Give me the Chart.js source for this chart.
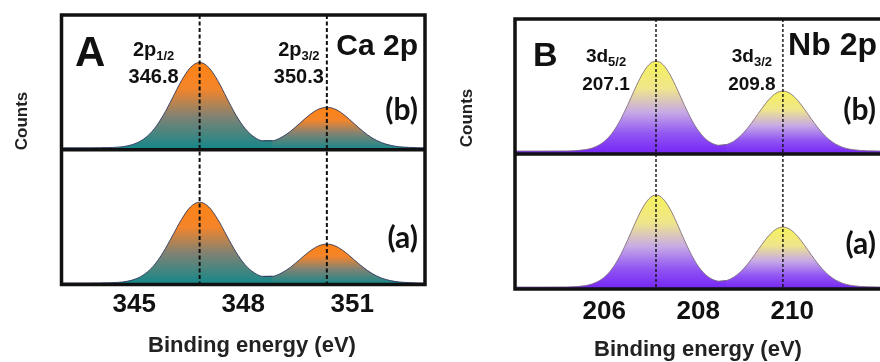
<!DOCTYPE html>
<html>
<head>
<meta charset="utf-8">
<script src="https://cdn.jsdelivr.net/npm/chart.js@4.4.1/dist/chart.umd.min.js"></script>
<style>
  html, body { margin: 0; padding: 0; background: #fff; overflow: hidden; }
  #figure { position: relative; width: 880px; height: 362px; overflow: hidden; background: #fff; }
  #figure canvas { position: absolute; top: 0; }
  #caChart { left: 0; }
  #nbChart { left: 440px; }
</style>
</head>
<body>
<div id="figure">
  <canvas id="caChart" width="440" height="362"></canvas>
  <canvas id="nbChart" width="470" height="362"></canvas>
</div>
<script>
// ---- Ca 2p spectra (binding energy in eV, counts in a.u.) ----
const energyCa = [343.0, 343.05, 343.3, 343.55, 343.8, 344.05, 344.3, 344.55, 344.8, 345.05, 345.3,
  345.55, 345.8, 346.05, 346.3, 346.55, 346.8, 347.05, 347.3, 347.55, 347.8, 348.05, 348.3, 348.55,
  348.8, 349.05, 349.3, 349.55, 349.8, 350.05, 350.3, 350.55, 350.8, 351.05, 351.3, 351.55, 351.8,
  352.05, 352.3, 352.55, 352.8, 353.0];
const countsCaB = [2.0, 2.0, 2.0, 2.0, 2.0, 2.1, 2.2, 2.6, 3.8, 6.5, 11.8, 20.9, 34.6, 51.7, 69.2, 82.5,
  87.5, 82.5, 69.2, 51.7, 34.7, 21.3, 12.8, 8.9, 9.0, 12.4, 18.5, 26.3, 34.2, 40.3, 42.5, 40.3, 34.2,
  26.2, 18.3, 11.7, 7.2, 4.5, 3.0, 2.4, 2.1, 2.0];
const countsCaA = [1.5, 1.5, 1.5, 1.5, 1.5, 1.6, 1.7, 2.1, 3.2, 5.7, 10.8, 19.4, 32.4, 48.6, 65.1, 77.8,
  82.5, 77.8, 65.2, 48.6, 32.5, 19.8, 11.8, 8.1, 8.2, 11.5, 17.3, 24.9, 32.5, 38.3, 40.5, 38.3, 32.5,
  24.8, 17.2, 10.9, 6.5, 3.9, 2.5, 1.9, 1.6, 1.5];
const peaksCa = [346.8, 350.3];
const subsCa = ['1/2', '3/2'];
const ticksCa = [345, 348, 351];

// ---- Nb spectra ----
const energyNb = [204.1, 204.7, 205.2, 205.6, 205.75, 205.9, 206.05, 206.2, 206.35, 206.5, 206.65,
  206.8, 206.95, 207.1, 207.25, 207.4, 207.55, 207.7, 207.85, 208.0, 208.15, 208.3, 208.45, 208.6,
  208.75, 208.9, 209.05, 209.2, 209.35, 209.5, 209.65, 209.8, 209.95, 210.1, 210.25, 210.4, 210.55,
  210.7, 210.85, 211.0, 211.15, 211.3, 211.6, 212.1];
const countsNbB = [3.0, 3.0, 3.1, 4.4, 6.1, 9.3, 14.7, 23.1, 34.8, 49.3, 64.9, 79.2, 89.3, 93.0, 89.3,
  79.2, 64.9, 49.3, 34.9, 23.4, 15.3, 10.6, 8.7, 9.5, 12.6, 18.2, 25.9, 35.4, 45.4, 54.4, 60.7, 63.0,
  60.7, 54.4, 45.4, 35.4, 25.9, 18.0, 12.1, 8.1, 5.6, 4.3, 3.2, 3.0];
const countsNbA = [2.0, 2.0, 2.1, 3.4, 5.2, 8.4, 14.0, 22.6, 34.5, 49.3, 65.3, 79.9, 90.2, 94.0, 90.2,
  79.9, 65.3, 49.3, 34.6, 22.8, 14.5, 9.7, 7.8, 8.5, 11.7, 17.2, 24.9, 34.4, 44.4, 53.4, 59.7, 62.0,
  59.7, 53.4, 44.4, 34.4, 24.9, 17.0, 11.1, 7.1, 4.6, 3.3, 2.2, 2.0];
const peaksNb = [207.1, 209.8];
const subsNb = ['5/2', '3/2'];
const ticksNb = [206, 208, 210];

const SANS = '"Liberation Sans", Arial, sans-serif';
const TAG = 'Lato, "Open Sans", sans-serif';

// vertical gradient that runs from the top of one peak down to zero counts
function peakFill(stops) {
  return (ctx) => {
    const chart = ctx.chart;
    if (!chart.chartArea) return stops[0][1];
    const ds = chart.data.datasets[ctx.datasetIndex];
    const y = chart.scales[ds.yAxisID];
    const top = Math.max(...ds.data.map(p => p.y));
    const g = chart.ctx.createLinearGradient(0, y.getPixelForValue(top), 0, y.getPixelForValue(0));
    stops.forEach(([o, c]) => g.addColorStop(o, c));
    return g;
  };
}

// one spectrum split at the valley between its two peaks, each half with its own gradient;
// the left half runs one point past the valley so the two fills overlap without a seam
function spectrumDatasets(energy, counts, peaks, axisId, stops, lineColor) {
  const pts = energy.map((e, i) => ({ x: e, y: counts[i] }));
  const i1 = energy.indexOf(peaks[0]);
  const i2 = energy.indexOf(peaks[1]);
  let v = i1;
  for (let i = i1; i <= i2; i++) if (counts[i] < counts[v]) v = i;
  return [pts.slice(0, v + 2), pts.slice(v)].map(data => ({
    data,
    yAxisID: axisId,
    fill: 'origin',
    backgroundColor: peakFill(stops),
    borderColor: lineColor,
    borderWidth: 1,
    pointRadius: 0,
    cubicInterpolationMode: 'monotone'
  }));
}

const panelPlugin = {
  id: 'panel',
  afterDatasetsDraw(chart, args, o) {
    const { ctx, chartArea: a, scales } = chart;
    const x = scales.x, yb = scales.yb, ya = scales.ya;
    ctx.save();

    // dashed markers at the peak energies
    ctx.strokeStyle = '#111';
    ctx.lineWidth = o.dashWidth;
    ctx.setLineDash(o.dash);
    o.peaks.forEach(p => {
      const px = x.getPixelForValue(p);
      ctx.beginPath();
      ctx.moveTo(px, a.top);
      ctx.lineTo(px, a.bottom);
      ctx.stroke();
    });
    ctx.setLineDash([]);

    // frame and the divider between the two spectra
    ctx.lineWidth = o.frameWidth;
    ctx.strokeRect(a.left, a.top, a.right - a.left, a.bottom - a.top);
    ctx.beginPath();
    ctx.moveTo(a.left, yb.bottom);
    ctx.lineTo(a.right, yb.bottom);
    ctx.stroke();

    ctx.fillStyle = '#111';
    ctx.textBaseline = 'alphabetic';

    // panel letter
    ctx.textAlign = 'left';
    ctx.font = `bold ${o.letter.size}px ${SANS}`;
    ctx.fillText(o.letter.text, a.left + o.letter.dx, a.top + o.letter.dy);

    // core level name
    ctx.textAlign = 'right';
    ctx.font = `bold ${o.level.size}px ${SANS}`;
    ctx.fillText(o.level.text, a.right - o.level.dx, a.top + o.level.dy);

    // peak names and energies
    o.peaks.forEach((p, i) => {
      const cx = x.getPixelForValue(p) + o.peakLabel.dx[i];
      ctx.font = `bold ${o.peakLabel.size}px ${SANS}`;
      const wMain = ctx.measureText(o.peakLabel.orbital).width;
      ctx.font = `bold ${o.peakLabel.subSize}px ${SANS}`;
      const wSub = ctx.measureText(o.peakLabel.subs[i]).width;
      const start = cx - (wMain + wSub) / 2;
      const y1 = a.top + o.peakLabel.dy1;
      ctx.textAlign = 'left';
      ctx.font = `bold ${o.peakLabel.size}px ${SANS}`;
      ctx.fillText(o.peakLabel.orbital, start, y1);
      ctx.font = `bold ${o.peakLabel.subSize}px ${SANS}`;
      ctx.fillText(o.peakLabel.subs[i], start + wMain, y1 + o.peakLabel.subDrop);
      ctx.textAlign = 'center';
      ctx.font = `bold ${o.peakLabel.size}px ${SANS}`;
      ctx.fillText(p.toFixed(1), cx, a.top + o.peakLabel.dy2);
    });

    // sample tags
    ctx.textAlign = 'right';
    ctx.textBaseline = 'middle';
    ctx.font = `bold ${o.tag.size}px ${TAG}`;
    ctx.fillText('(b)', a.right - o.tag.dx, yb.top + o.tag.dyB);
    ctx.fillText('(a)', a.right - o.tag.dx, ya.top + o.tag.dyA);

    // axis titles (vertically centred on the given y)
    ctx.textAlign = 'center';
    ctx.fillStyle = '#222';
    ctx.font = `bold ${o.xTitle.size}px ${SANS}`;
    ctx.fillText('Binding energy (eV)', o.xTitle.x, o.xTitle.y);
    ctx.save();
    ctx.translate(o.yTitle.x, o.yTitle.y);
    ctx.rotate(-Math.PI / 2);
    ctx.font = `bold ${o.yTitle.size}px ${SANS}`;
    ctx.fillText('Counts', 0, 0);
    ctx.restore();

    ctx.restore();
  }
};

function makePanel(canvasId, cfg) {
  const yAxis = (weight) => ({
    type: 'linear', min: 0, max: 135, position: 'left', stack: 'spectra', stackWeight: 1, weight,
    ticks: { display: false }, grid: { display: false, drawTicks: false }, border: { display: false },
    afterFit: s => { s.width = cfg.axisWidth; }
  });
  return new Chart(document.getElementById(canvasId), {
    type: 'line',
    data: {
      datasets: [
        ...spectrumDatasets(cfg.energy, cfg.countsB, cfg.peaks, 'yb', cfg.stops, cfg.lineColor),
        ...spectrumDatasets(cfg.energy, cfg.countsA, cfg.peaks, 'ya', cfg.stops, cfg.lineColor)
      ]
    },
    options: {
      responsive: false,
      animation: false,
      devicePixelRatio: 1,
      layout: { padding: { top: cfg.padTop, right: cfg.padRight, left: 0, bottom: 0 } },
      scales: {
        x: {
          type: 'linear', min: cfg.xMin, max: cfg.xMax,
          afterBuildTicks: s => { s.ticks = cfg.ticks.map(v => ({ value: v })); },
          afterFit: s => { s.height = cfg.axisHeight; },
          ticks: {
            autoSkip: false, maxRotation: 0, padding: cfg.tickPad, color: '#111',
            font: { family: SANS, size: cfg.tickSize, weight: 'bold' }
          },
          grid: { display: false, drawTicks: false }, border: { display: false }
        },
        ya: yAxis(1),
        yb: yAxis(2)
      },
      plugins: {
        legend: { display: false },
        tooltip: { enabled: false },
        panel: cfg.panel
      }
    },
    plugins: [panelPlugin]
  });
}

makePanel('caChart', {
  energy: energyCa, countsB: countsCaB, countsA: countsCaA, peaks: peaksCa,
  xMin: 343, xMax: 353, ticks: ticksCa,
  axisWidth: 61.5, axisHeight: 77.5, padTop: 15, padRight: 15,
  tickPad: 5, tickSize: 26,
  stops: [[0, '#ff8212'], [0.3, '#f4852a'], [0.62, '#808273'], [1, '#12888b']],
  lineColor: 'rgba(40,50,90,0.85)',
  panel: {
    peaks: peaksCa, dash: [4, 2.5], dashWidth: 2, frameWidth: 3.5,
    letter: { text: 'A', size: 42, dx: 13.5, dy: 51 },
    level: { text: 'Ca 2p', size: 30, dx: 7, dy: 40 },
    peakLabel: { orbital: '2p', subs: subsCa, size: 20, subSize: 13, subDrop: 4, dx: [-46, -28], dy1: 41, dy2: 68 },
    tag: { size: 30, dx: 7, dyB: 95, dyA: 89 },
    xTitle: { x: 252, y: 346, size: 22 },
    yTitle: { x: 22, y: 121, size: 17 }
  }
});

makePanel('nbChart', {
  energy: energyNb, countsB: countsNbB, countsA: countsNbA, peaks: peaksNb,
  xMin: 204.1, xMax: 212.1, ticks: ticksNb,
  axisWidth: 75, axisHeight: 73, padTop: 19, padRight: 19,
  tickPad: 7, tickSize: 26,
  stops: [[0, '#f5f25a'], [0.3, '#efe58c'], [0.55, '#c6a9e6'], [0.78, '#9257f3'], [1, '#7424f5']],
  lineColor: 'rgba(120,100,120,0.8)',
  panel: {
    peaks: peaksNb, dash: [3, 2], dashWidth: 1.4, frameWidth: 3.5,
    letter: { text: 'B', size: 34, dx: 18, dy: 47 },
    level: { text: 'Nb 2p', size: 32, dx: 14, dy: 36 },
    peakLabel: { orbital: '3d', subs: subsNb, size: 19, subSize: 13, subDrop: 4, dx: [-50, -31], dy1: 43, dy2: 71 },
    tag: { size: 30, dx: 15, dyB: 91, dyA: 90 },
    xTitle: { x: 258, y: 350, size: 22 },
    yTitle: { x: 27, y: 118, size: 17 }
  }
});
</script>
</body>
</html>
